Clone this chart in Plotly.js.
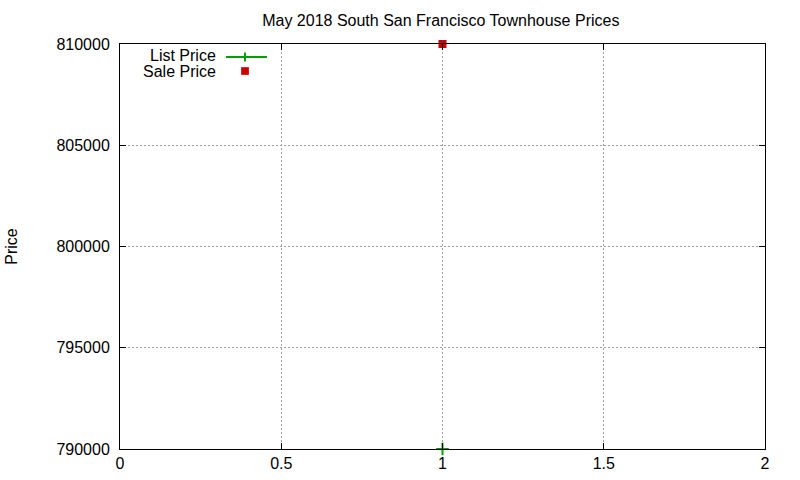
<!DOCTYPE html>
<html>
<head>
<meta charset="utf-8">
<script src="https://cdn.plot.ly/plotly-3.0.1.min.js"></script>
<style>
  html, body { margin: 0; padding: 0; background: #fff; }
  #chart { width: 800px; height: 480px; }
</style>
</head>
<body>
<div id="chart"></div>
<script>
// values
var homes = [1];
var listPrice = [790000];
var salePrice = [810000];
var xTicks = [0, 0.5, 1, 1.5, 2];
var yTicks = [790000, 795000, 800000, 805000, 810000];

var green = '#00a000';
var red = '#cc0000';
var font = 'Liberation Sans, Arial, sans-serif';
var fsize = 16;

var traces = [
    {
        type: 'scatter',
        mode: 'markers',
        name: 'List Price',
        x: homes,
        y: listPrice,
        cliponaxis: false,
        marker: { symbol: 'cross-thin', size: 9, line: { color: green, width: 2 } }
    },
    {
        type: 'scatter',
        mode: 'markers',
        name: 'Sale Price',
        x: homes,
        y: salePrice,
        cliponaxis: false,
        marker: { symbol: 'square', size: 8, color: red }
    }
];

function axis(ticks) {
    return {
        tickmode: 'array',
        tickvals: ticks,
        ticks: 'inside',
        ticklen: 6,
        tickcolor: '#000',
        showline: true,
        linecolor: '#000',
        linewidth: 1,
        mirror: 'ticks',
        showgrid: true,
        gridcolor: '#a0a0a0',
        griddash: '2px,2px',
        gridwidth: 1,
        zeroline: false,
        tickfont: { family: font, size: fsize, color: '#000' }
    };
}

var xaxis = axis(xTicks);
xaxis.range = [0, 2];
xaxis.ticktext = xTicks.map(String);

var yaxis = axis(yTicks);
yaxis.range = [790000, 810000];
yaxis.tickformat = 'd';
yaxis.ticklabelstandoff = 6;
yaxis.title = { text: 'Price', font: { family: font, size: fsize, color: '#000' }, standoff: 34 };

// gnuplot-style key: label on the left, sample on the right
var keyX = [0.1643, 0.2279];
var keyMid = 0.1938;
var keyY = [0.9679, 0.9333];
var keyTextX = 0.1504;

var layout = {
    width: 800,
    height: 480,
    margin: { l: 120, r: 35, t: 44, b: 31 },
    paper_bgcolor: '#fff',
    plot_bgcolor: '#fff',
    showlegend: false,
    title: {
        text: 'May 2018 South San Francisco Townhouse Prices',
        font: { family: font, size: fsize, color: '#000' },
        x: 0.551, xanchor: 'center', y: 0.958, yanchor: 'middle'
    },
    xaxis: xaxis,
    yaxis: yaxis,
    annotations: [
        { xref: 'paper', yref: 'paper', x: keyTextX, y: keyY[0] + 0.004, xanchor: 'right', yanchor: 'middle',
          text: 'List Price', showarrow: false, borderpad: 0, font: { family: font, size: fsize, color: '#000' } },
        { xref: 'paper', yref: 'paper', x: keyTextX, y: keyY[1] - 0.002, xanchor: 'right', yanchor: 'middle',
          text: 'Sale Price', showarrow: false, borderpad: 0, font: { family: font, size: fsize, color: '#000' } }
    ],
    shapes: [
        { type: 'line', xref: 'paper', yref: 'paper', x0: keyX[0], x1: keyX[1], y0: keyY[0], y1: keyY[0],
          line: { color: green, width: 2 } },
        { type: 'line', xref: 'paper', yref: 'paper', x0: keyMid, x1: keyMid, y0: keyY[0] - 0.011, y1: keyY[0] + 0.011,
          line: { color: green, width: 2 } },
        { type: 'rect', xref: 'paper', yref: 'paper', x0: keyMid - 0.006, x1: keyMid + 0.006, y0: keyY[1] - 0.0095, y1: keyY[1] + 0.0095,
          fillcolor: red, line: { width: 0 } }
    ]
};

Plotly.newPlot('chart', traces, layout, { staticPlot: true });
</script>
</body>
</html>
